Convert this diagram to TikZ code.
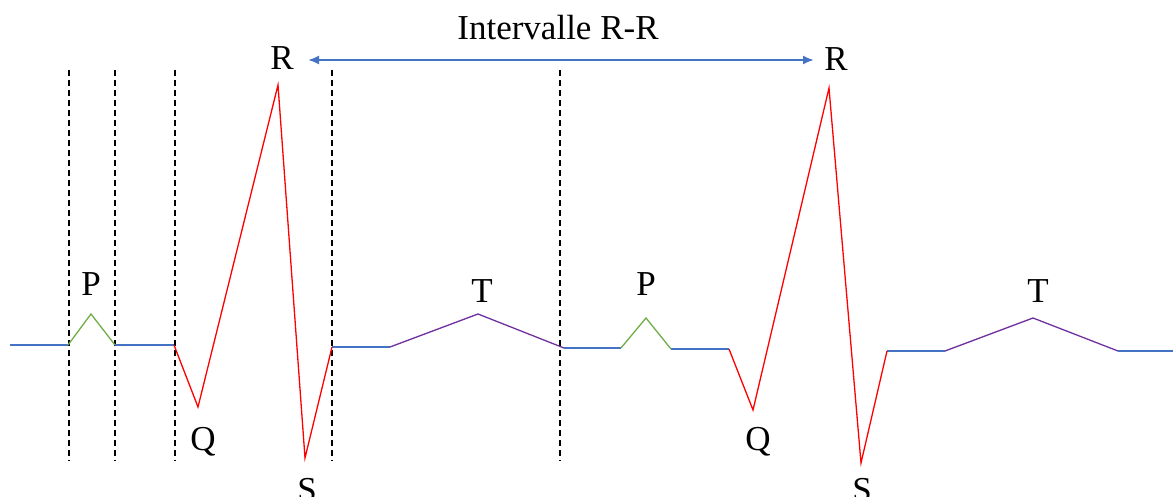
\documentclass[tikz,border=0pt]{standalone}
\usepackage{fontspec}
\setmainfont{Liberation Serif}
\usepackage{tikz}
\usetikzlibrary{arrows.meta, positioning}
\definecolor{ecgblue}{RGB}{68, 114, 196}
\definecolor{ecggreen}{RGB}{112, 173, 71}
\definecolor{ecgred}{RGB}{255, 0, 0}
\definecolor{ecgpurple}{RGB}{112, 48, 160}

\begin{document}
\begin{tikzpicture}[
  x=1pt, y=-1pt,
  base/.style={color=ecgblue, line width=1.3pt},
  pwave/.style={color=ecggreen, line width=1.3pt},
  qrs/.style={color=ecgred, line width=1.3pt},
  twave/.style={color=ecgpurple, line width=1.3pt},
  guide/.style={black, line width=1.2pt, dash pattern=on 6pt off 4pt},
  arr/.style={{Latex[length=11pt,width=9pt]}-{Latex[length=11pt,width=9pt]}, line width=2pt, color=ecgblue},
  lbl/.style={anchor=base, inner sep=0pt, font=\fontsize{35}{40}\selectfont}
]
  \useasboundingbox (0,0) rectangle (1173,497);

  \coordinate (b0)  at (10,345);
  \coordinate (p1a) at (68,345);
  \coordinate (p1)  at (91,314);
  \coordinate (p1b) at (115,345);
  \coordinate (q1a) at (174,345);
  \coordinate (q1)  at (198,407);
  \coordinate (r1)  at (278,85);
  \coordinate (s1)  at (305,458);
  \coordinate (s1b) at (332,347);
  \coordinate (t1a) at (390,347);
  \coordinate (t1)  at (478,314);
  \coordinate (t1b) at (564,348);
  \coordinate (p2a) at (621,348);
  \coordinate (p2)  at (646,318);
  \coordinate (p2b) at (671,349);
  \coordinate (q2a) at (729,349);
  \coordinate (q2)  at (753,410);
  \coordinate (r2)  at (829,88);
  \coordinate (s2)  at (861,463);
  \coordinate (s2b) at (887,351);
  \coordinate (t2a) at (945,351);
  \coordinate (t2)  at (1033,318);
  \coordinate (t2b) at (1118,351);
  \coordinate (e0)  at (1173,351);

  \foreach \x/\n in {69/a, 115/b, 175/c, 332/d, 560/e} {
    \coordinate (top\n) at (\x,70);
    \coordinate (bot\n) at (\x,461);
    \draw[guide] (top\n) -- (bot\n);
  }

  \draw[base] (b0) -- (p1a);
  \draw[base] (p1b) -- (q1a);
  \draw[base] (s1b) -- (t1a);
  \draw[base] (t1b) -- (p2a);
  \draw[base] (p2b) -- (q2a);
  \draw[base] (s2b) -- (t2a);
  \draw[base] (t2b) -- (e0);

  \draw[pwave] (p1a) -- (p1) -- (p1b);
  \draw[pwave] (p2a) -- (p2) -- (p2b);
  \draw[qrs, line join=miter] (q1a) -- (q1) -- (r1) -- (s1) -- (s1b);
  \draw[qrs, line join=miter] (q2a) -- (q2) -- (r2) -- (s2) -- (s2b);
  \draw[twave] (t1a) -- (t1) -- (t1b);
  \draw[twave] (t2a) -- (t2) -- (t2b);

  \node[lbl] (labP1) at (91,295)  {P};
  \node[lbl] (labQ1) at (203,450) {Q};
  \node[lbl] (labR1) at (282,70)  {R};
  \node[lbl] (labS1) at (307,501) {S};
  \node[lbl] (labT1) at (482,302) {T};
  \node[lbl] (labP2) at (646,295) {P};
  \node[lbl] (labQ2) at (758,450) {Q};
  \node[lbl] (labR2) at (836,71)  {R};
  \node[lbl] (labS2) at (862,501) {S};
  \node[lbl] (labT2) at (1038,302) {T};
  \node[lbl] (labRR) at (558,40)  {Intervalle R-R};

  \coordinate (rrL) at (308,60);
  \coordinate (rrR) at (814,60);
  \draw[arr] (rrL) -- (rrR);
\end{tikzpicture}
\end{document}
